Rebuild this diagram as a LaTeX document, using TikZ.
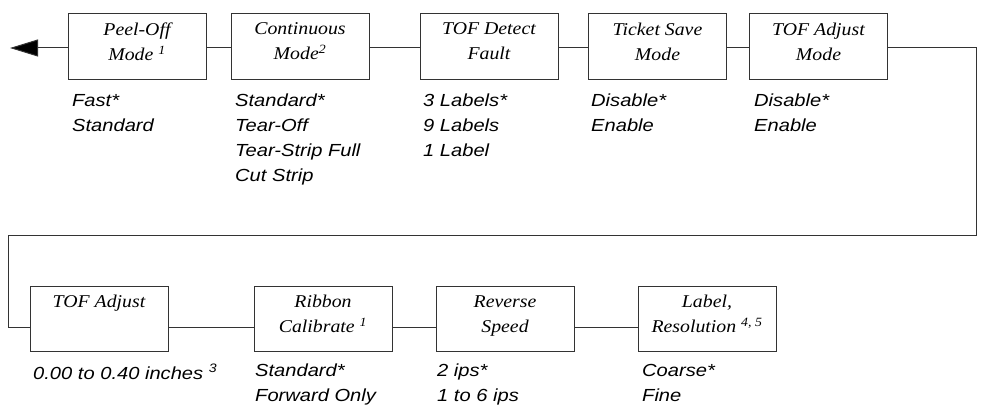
\documentclass[tikz,border=0pt]{standalone}
\usepackage{fontspec}
\setmainfont{Liberation Serif}
\newfontfamily\titlefont[FakeStretch=1.1]{Liberation Serif}
\newfontfamily\optfont[FakeStretch=1.15]{Liberation Sans}
\usetikzlibrary{arrows.meta,positioning}
\definecolor{menuLine}{HTML}{333333}
\tikzset{
  link/.style={draw=menuLine, line width=1pt},
  back link/.style={link, -{Triangle[length=28pt,width=17pt,fill=black]}},
  menu box/.style={draw=menuLine, line width=1pt, minimum width=138pt,
    minimum height=65pt, align=center, inner sep=2pt, text depth=10pt,
    font=\titlefont\itshape\fontsize{18}{25}\selectfont},
  option list/.style={anchor=north west, align=left, inner sep=0pt,
    font=\optfont\itshape\fontsize{17.5}{25}\selectfont}
}
\begin{document}
\begin{tikzpicture}[x=1pt,y=-1pt]
  \useasboundingbox (0,0) rectangle (982,412);

  % top row
  \node[menu box] (peel) at (137,46.5) {Peel-Off\\Mode \textsuperscript{1}};
  \node[menu box] (cont) at (300,46.5) {Continuous\\Mode\textsuperscript{2}};
  \node[menu box] (tofdet) at (489,46.5) {TOF Detect\\Fault};
  \node[menu box] (ticket) at (657.5,46.5) {Ticket Save\\Mode};
  \node[menu box] (tofmode) at (818.5,46.5) {TOF Adjust\\Mode};

  \node[option list] (peelopt) at (72,94) {Fast*\\Standard};
  \node[option list] (contopt) at (235,94)
    {Standard*\\Tear-Off\\Tear-Strip Full\\Cut Strip};
  \node[option list] (tofdetopt) at (423,94) {3 Labels*\\9 Labels\\1 Label};
  \node[option list] (ticketopt) at (591,94) {Disable*\\Enable};
  \node[option list] (tofmodeopt) at (754,94) {Disable*\\Enable};

  % bottom row
  \node[menu box] (tofadj) at (99,319) {TOF Adjust\\\mbox{}};
  \node[menu box] (ribbon) at (323,319) {Ribbon\\Calibrate \textsuperscript{1}};
  \node[menu box] (reverse) at (505,319) {Reverse\\Speed};
  \node[menu box] (resol) at (707,319) {Label,\\Resolution \textsuperscript{4, 5}};

  \node[option list] (tofadjopt) at (33,364) {0.00 to 0.40 inches \textsuperscript{3}};
  \node[option list] (ribbonopt) at (255,364) {Standard*\\Forward Only};
  \node[option list] (reverseopt) at (437,364) {2 ips*\\1 to 6 ips};
  \node[option list] (resolopt) at (642,364) {Coarse*\\Fine};

  % connectors
  \coordinate (exit) at (10,48);
  \coordinate (turn1) at (976,48);
  \coordinate (turn2) at (976,235);
  \coordinate (turn3) at (8,235);
  \coordinate (turn4) at (8,327);
  \draw[back link] ([yshift=-1.5pt]peel.west) -- (exit);
  \draw[link] ([yshift=-1.5pt]cont.west) -- ([yshift=-1.5pt]peel.east);
  \draw[link] ([yshift=-1.5pt]tofdet.west) -- ([yshift=-1.5pt]cont.east);
  \draw[link] ([yshift=-1.5pt]ticket.west) -- ([yshift=-1.5pt]tofdet.east);
  \draw[link] ([yshift=-1.5pt]tofmode.west) -- ([yshift=-1.5pt]ticket.east);
  \draw[link] ([yshift=-1.5pt]tofmode.east) -- (turn1) -- (turn2)
    -- (turn3) -- (turn4) -- ([yshift=-8pt]tofadj.west);
  \draw[link] ([yshift=-8pt]tofadj.east) -- ([yshift=-8pt]ribbon.west);
  \draw[link] ([yshift=-8pt]ribbon.east) -- ([yshift=-8pt]reverse.west);
  \draw[link] ([yshift=-8pt]reverse.east) -- ([yshift=-8pt]resol.west);
\end{tikzpicture}
\end{document}
